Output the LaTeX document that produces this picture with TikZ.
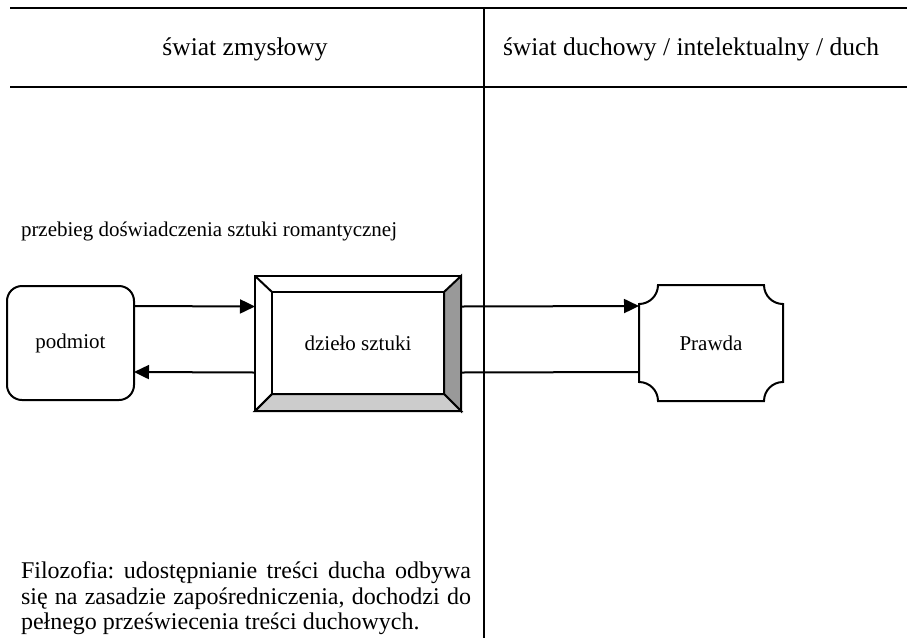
\documentclass[tikz,border=0pt]{standalone}
\usepackage{fontspec}
\setmainfont{Liberation Serif}
\usepackage{tikz}
\usetikzlibrary{arrows.meta,calc}
\frenchspacing
\tikzstyle{arr}=[-{Triangle[length=15pt,width=14pt]}]
\newcommand\plaqueR{19pt}
\tikzstyle{fgdraw}=[
  inner sep=0pt,outer sep=0pt,
  draw,line width=2pt]
\tikzstyle{txt}=[inner sep=0pt,font=\fontsize{21}{25.5}\selectfont]
\tikzstyle{head}=[inner sep=0pt,font=\fontsize{25.5}{30}\selectfont]

\begin{document}
\begin{tikzpicture}[x=1pt,y=-1pt,line width=2pt]
\useasboundingbox (0,0) rectangle (907,638);
% table
\draw[line width=2.6pt] (10,8) -- (907,8);
\draw[line width=2.6pt] (10,87) -- (907,87);
\draw (484,8) -- (484,638);
\node[head,anchor=base] (zmysl) at (245,55) {świat zmysłowy};
\node[head,anchor=base west] (duch) at (502,55) {świat duchowy / intelektualny / duch};
\node[txt,anchor=base west] (przebieg) at (20,236) {przebieg doświadczenia sztuki romantycznej};
% boxes
\node[fgdraw,txt,rounded corners=15pt,minimum width=127pt,minimum height=114pt]
  (podmiot) at (70.5,343) {podmiot};
\node[fgdraw,txt,minimum width=206pt,minimum height=135pt]
  (dzielo) at (358,343.5) {dzieło sztuki};
\coordinate (dNW) at ($(dzielo.north west)+(17,16)$);
\coordinate (dNE) at ($(dzielo.north east)+(-17,16)$);
\coordinate (dSE) at ($(dzielo.south east)+(-17,-17)$);
\coordinate (dSW) at ($(dzielo.south west)+(17,-17)$);
\filldraw[fill=black!40] (dzielo.north east) -- (dzielo.south east) -- (dSE) -- (dNE) -- cycle;
\filldraw[fill=black!20] (dzielo.south west) -- (dzielo.south east) -- (dSE) -- (dSW) -- cycle;
\draw (dNW) rectangle (dSE);
\draw (dzielo.north west) -- (dNW);
\draw (dzielo.south west) -- (dSW);
\draw (dzielo.north west) rectangle (dzielo.south east);
\node[txt,minimum width=142pt,minimum height=114pt] (prawda) at (711,343) {Prawda};
\draw ([yshift=-\plaqueR]prawda.north west) arc[start angle=270,end angle=360,radius=\plaqueR]
  -- ([xshift=-\plaqueR]prawda.north east) arc[start angle=180,end angle=270,radius=\plaqueR]
  -- ([yshift=\plaqueR]prawda.south east) arc[start angle=90,end angle=180,radius=\plaqueR]
  -- ([xshift=\plaqueR]prawda.south west) arc[start angle=0,end angle=90,radius=\plaqueR]
  -- cycle;
% connectors
\draw[arr] ([yshift=37pt]podmiot.east) -- ([yshift=37pt]dzielo.west);
\draw[arr] ([yshift=-29pt]dzielo.west) -- ([yshift=-29pt]podmiot.east);
\draw[arr] ([yshift=37pt]dzielo.east) -- ([yshift=37pt]prawda.west);
\draw ([yshift=-29pt]dzielo.east) -- ([yshift=-29pt]prawda.west);
\node[inner sep=0pt,font=\fontsize{24}{25.5}\selectfont,anchor=north west,
  text width=450pt,align=justify] (filozofia) at (20,561)
  {Filozofia: udostępnianie treści ducha odbywa\linebreak
   się na zasadzie zapośredniczenia, dochodzi do\linebreak
   pełnego przeświecenia treści duchowych.};
\end{tikzpicture}
\end{document}
